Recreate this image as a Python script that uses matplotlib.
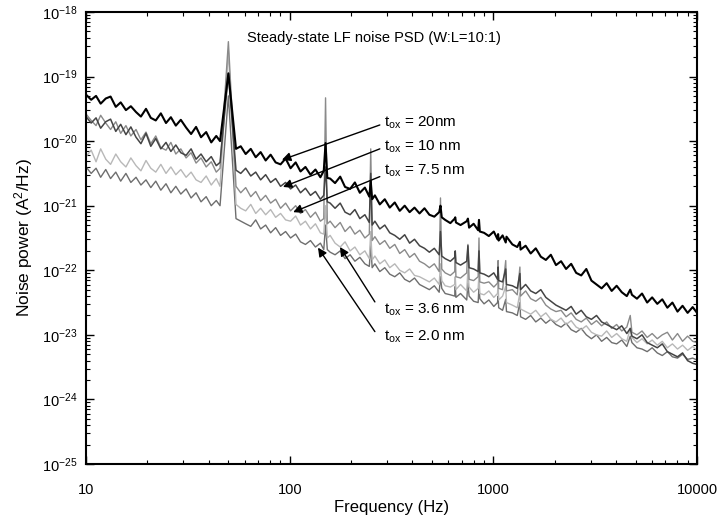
import numpy as np
import matplotlib.pyplot as plt
from matplotlib.ticker import LogLocator, NullFormatter

plt.rcParams['font.family'] = ['Liberation Sans', 'DejaVu Sans']
plt.rcParams['mathtext.fontset'] = 'custom'
plt.rcParams['mathtext.rm'] = 'Liberation Sans'
plt.rcParams['mathtext.it'] = 'Liberation Sans:italic'
plt.rcParams['mathtext.bf'] = 'Liberation Sans:bold'

# frequency (Hz)
freq = [10, 10.6, 11.2, 11.8, 12.5, 13.2, 14.0, 14.8, 15.7, 16.6,
        17.6, 18.6, 19.7, 20.8, 22.0, 23.3, 24.7, 26.1, 27.6, 29.2,
        31.0, 32.8, 34.7, 36.7, 38.9, 41.2, 43.6, 45.5, 50, 54.5,
        57.5, 60.8, 64.4, 68.1, 72.0, 76.2, 80.6, 85.3, 90.2, 95.5,
        101, 107, 113, 119.5, 126.5, 133.8, 141.5, 147, 150, 153,
        158, 167, 177, 187, 198, 209, 221, 234, 246, 250,
        254, 262, 277, 293, 310, 328, 347, 367, 388, 410,
        434, 459, 485, 513, 542, 550, 558, 580, 615, 646,
        650, 655, 690, 740, 750, 760, 800, 842, 850, 858,
        900, 950, 1005, 1048, 1055, 1062, 1110, 1150, 1160, 1240,
        1310, 1350, 1360, 1440, 1525, 1615, 1710, 1810, 1915, 2030,
        2150, 2275, 2410, 2550, 2700, 2860, 3030, 3210, 3400, 3600,
        3810, 4030, 4270, 4520, 4700, 4790, 5070, 5370, 5690, 6020,
        6380, 6750, 7150, 7570, 8020, 8490, 8990, 9520, 10000]

# log10 of noise power (A^2/Hz)
p_20 = [-19.28, -19.36, -19.30, -19.42, -19.34, -19.31, -19.47, -19.40, -19.52, -19.46,
        -19.55, -19.62, -19.50, -19.64, -19.68, -19.57, -19.72, -19.63, -19.76, -19.67,
        -19.79, -19.89, -19.78, -19.94, -19.86, -20.02, -19.92, -20.00, -18.95, -20.12,
        -20.08, -20.20, -20.12, -20.25, -20.17, -20.30, -20.21, -20.33, -20.36, -20.27,
        -20.42, -20.33, -20.47, -20.40, -20.52, -20.44, -20.56, -20.46, -20.03, -20.57,
        -20.58, -20.65, -20.55, -20.71, -20.74, -20.64, -20.80, -20.72, -20.86, -20.62,
        -20.90, -20.84, -20.98, -20.90, -21.03, -20.95, -21.08, -21.00, -21.10, -21.03,
        -21.12, -21.04, -21.14, -21.17, -21.10, -21.00, -21.18, -21.22, -21.27, -21.20,
        -21.18, -21.26, -21.30, -21.24, -21.20, -21.34, -21.28, -21.38, -21.22, -21.40,
        -21.42, -21.47, -21.40, -21.52, -21.44, -21.54, -21.46, -21.57, -21.48, -21.60,
        -21.64, -21.56, -21.68, -21.62, -21.74, -21.66, -21.79, -21.84, -21.76, -21.92,
        -21.86, -21.98, -21.90, -22.04, -22.08, -21.98, -22.16, -22.22, -22.28, -22.20,
        -22.32, -22.24, -22.34, -22.40, -22.30, -22.38, -22.44, -22.36, -22.50, -22.42,
        -22.52, -22.45, -22.58, -22.50, -22.64, -22.55, -22.66, -22.57, -22.66]

p_10 = [-19.62, -19.72, -19.64, -19.80, -19.70, -19.66, -19.85, -19.74, -19.90, -19.78,
        -19.94, -20.04, -19.88, -20.08, -19.96, -20.12, -20.02, -20.16, -20.06, -20.18,
        -20.22, -20.12, -20.28, -20.20, -20.32, -20.24, -20.38, -20.33, -18.96, -20.45,
        -20.50, -20.42, -20.54, -20.48, -20.60, -20.52, -20.64, -20.58, -20.70, -20.64,
        -20.74, -20.68, -20.80, -20.73, -20.84, -20.78, -20.90, -20.84, -20.40, -20.94,
        -20.96, -21.04, -20.96, -21.10, -21.14, -21.06, -21.20, -21.14, -21.26, -20.50,
        -21.30, -21.24, -21.36, -21.30, -21.42, -21.46, -21.52, -21.45, -21.58, -21.52,
        -21.62, -21.66, -21.72, -21.66, -21.76, -21.40, -21.78, -21.82, -21.86, -21.80,
        -21.70, -21.88, -21.92, -21.86, -21.62, -21.96, -21.98, -22.02, -21.70, -22.04,
        -22.06, -22.10, -22.04, -22.14, -21.95, -22.16, -22.18, -21.98, -22.22, -22.24,
        -22.28, -22.05, -22.30, -22.22, -22.32, -22.36, -22.30, -22.42, -22.48, -22.54,
        -22.58, -22.62, -22.56, -22.68, -22.62, -22.72, -22.76, -22.70, -22.80, -22.84,
        -22.88, -22.92, -22.86, -22.98, -22.90, -23.02, -23.06, -23.00, -23.12, -23.16,
        -23.20, -23.14, -23.26, -23.30, -23.34, -23.28, -23.40, -23.44, -23.46]

p_7_5 = [-19.58, -19.68, -19.76, -19.60, -19.72, -19.82, -19.70, -19.88, -19.76, -19.92,
         -19.82, -19.98, -19.86, -20.04, -19.92, -20.10, -20.14, -20.02, -20.20, -20.12,
         -20.26, -20.18, -20.34, -20.26, -20.40, -20.32, -20.48, -20.42, -18.46, -20.70,
         -20.80, -20.72, -20.86, -20.78, -20.92, -20.84, -20.96, -20.90, -21.04, -20.96,
         -21.08, -21.00, -21.12, -21.06, -21.18, -21.10, -21.24, -21.20, -19.33, -21.28,
         -21.24, -21.34, -21.26, -21.40, -21.32, -21.44, -21.38, -21.50, -21.44, -20.12,
         -21.54, -21.48, -21.60, -21.54, -21.66, -21.60, -21.74, -21.68, -21.80, -21.74,
         -21.86, -21.90, -21.96, -21.90, -22.02, -20.88, -21.98, -22.04, -22.08, -22.02,
         -21.75, -22.10, -22.12, -22.04, -21.60, -22.14, -22.16, -22.10, -21.50, -22.18,
         -22.20, -22.18, -22.26, -22.20, -21.85, -22.28, -22.30, -21.85, -22.32, -22.30,
         -22.38, -21.95, -22.40, -22.32, -22.44, -22.48, -22.42, -22.54, -22.60, -22.64,
         -22.62, -22.72, -22.66, -22.76, -22.80, -22.74, -22.84, -22.78, -22.86, -22.80,
         -22.90, -22.84, -22.94, -22.88, -22.70, -22.96, -23.00, -22.94, -23.04, -22.98,
         -23.06, -23.00, -22.96, -23.08, -22.98, -23.10, -23.02, -23.10, -23.12]

p_3_6 = [-20.24, -20.14, -20.32, -20.12, -20.28, -20.36, -20.20, -20.32, -20.40, -20.26,
         -20.38, -20.46, -20.30, -20.42, -20.48, -20.36, -20.50, -20.40, -20.52, -20.44,
         -20.56, -20.48, -20.60, -20.64, -20.54, -20.68, -20.58, -20.70, -18.60, -20.98,
         -21.04, -21.08, -20.98, -21.12, -21.04, -21.14, -21.06, -21.18, -21.12, -21.22,
         -21.24, -21.16, -21.30, -21.24, -21.36, -21.28, -21.42, -21.44, -21.00, -21.50,
         -21.46, -21.58, -21.64, -21.56, -21.70, -21.64, -21.76, -21.70, -21.82, -21.40,
         -21.84, -21.78, -21.90, -21.84, -21.96, -21.90, -22.00, -22.04, -21.98, -22.08,
         -22.10, -22.14, -22.18, -22.12, -22.22, -21.90, -22.16, -22.24, -22.26, -22.22,
         -22.10, -22.30, -22.22, -22.32, -22.00, -22.26, -22.34, -22.28, -22.05, -22.36,
         -22.38, -22.32, -22.42, -22.36, -22.20, -22.46, -22.40, -22.25, -22.50, -22.54,
         -22.58, -22.35, -22.60, -22.64, -22.68, -22.62, -22.72, -22.66, -22.76, -22.80,
         -22.74, -22.84, -22.78, -22.88, -22.92, -22.86, -22.96, -23.00, -23.02, -22.94,
         -23.04, -22.98, -23.06, -23.10, -22.90, -23.04, -23.12, -23.06, -23.14, -23.08,
         -23.16, -23.10, -23.20, -23.14, -23.22, -23.16, -23.24, -23.18, -23.24]

p_2_0 = [-20.40, -20.50, -20.42, -20.56, -20.44, -20.58, -20.48, -20.62, -20.50, -20.64,
         -20.56, -20.68, -20.60, -20.72, -20.62, -20.76, -20.66, -20.80, -20.70, -20.82,
         -20.74, -20.88, -20.80, -20.94, -20.86, -21.00, -20.92, -21.00, -19.30, -21.20,
         -21.24, -21.28, -21.32, -21.22, -21.36, -21.30, -21.42, -21.34, -21.46, -21.40,
         -21.50, -21.44, -21.56, -21.60, -21.54, -21.64, -21.58, -21.68, -21.30, -21.68,
         -21.72, -21.76, -21.70, -21.82, -21.76, -21.86, -21.80, -21.90, -21.94, -21.60,
         -21.96, -21.90, -22.02, -21.96, -22.06, -22.10, -22.04, -22.14, -22.18, -22.12,
         -22.22, -22.26, -22.30, -22.24, -22.34, -22.10, -22.28, -22.36, -22.38, -22.40,
         -22.25, -22.42, -22.36, -22.46, -22.20, -22.40, -22.48, -22.50, -22.25, -22.44,
         -22.52, -22.46, -22.56, -22.50, -22.40, -22.58, -22.62, -22.45, -22.64, -22.66,
         -22.70, -22.50, -22.72, -22.76, -22.70, -22.80, -22.74, -22.82, -22.76, -22.84,
         -22.88, -22.82, -22.92, -22.96, -22.90, -23.00, -23.06, -23.00, -23.10, -23.04,
         -23.12, -23.14, -23.08, -23.18, -23.02, -23.12, -23.20, -23.22, -23.26, -23.20,
         -23.28, -23.32, -23.26, -23.34, -23.36, -23.30, -23.38, -23.36, -23.39]

# drawing order: back to front
series = [p_2_0, p_3_6, p_7_5, p_10, p_20]
colors = ['#6e6e6e', '#b8b8b8', '#8a8a8a', '#444444', '#000000']
widths = [1.0, 1.0, 1.0, 1.1, 1.5]

# annotations: label, text pos, arrow tail, arrow tip (freq, log10 power)
labels = ['$\\mathrm{t_{ox}}$ = 20nm', '$\\mathrm{t_{ox}}$ = 10 nm',
          '$\\mathrm{t_{ox}}$ = 7.5 nm', '$\\mathrm{t_{ox}}$ = 3.6 nm',
          '$\\mathrm{t_{ox}}$ = 2.0 nm']
text_pos = [(290, -19.72), (290, -20.09), (290, -20.46), (290, -22.61), (290, -23.03)]
arrow_tail = [(277, -19.75), (277, -20.12), (277, -20.55), (262, -22.49), (262, -22.95)]
arrow_tip = [(91.6, -20.29), (92.7, -20.71), (104, -21.10), (176.6, -21.64), (137.7, -21.65)]

x_ticks = [10, 100, 1000, 10000]
y_ticks = [1e-25, 1e-24, 1e-23, 1e-22, 1e-21, 1e-20, 1e-19, 1e-18]

fig = plt.figure(figsize=(7.18, 5.22), dpi=100)
ax = fig.add_axes([0.1198, 0.1111, 0.851, 0.866])

for p, c, w in zip(series, colors, widths):
    ax.plot(freq, 10 ** np.array(p), color=c, lw=w)

ax.set_xscale('log')
ax.set_yscale('log')
ax.set_xlim(10, 10000)
ax.set_ylim(1e-25, 1e-18)

ax.set_xticks(x_ticks)
ax.set_xticklabels([str(t) for t in x_ticks])
ax.set_yticks(y_ticks)
ax.set_yticklabels(['$10^{%d}$' % int(np.log10(t)) for t in y_ticks])
ax.xaxis.set_minor_locator(LogLocator(base=10, subs=np.arange(2, 10), numticks=20))
ax.xaxis.set_minor_formatter(NullFormatter())
ax.yaxis.set_minor_locator(LogLocator(base=10, subs=np.arange(2, 10), numticks=30))
ax.yaxis.set_minor_formatter(NullFormatter())

ax.tick_params(which='both', direction='in', top=True, right=True, labelsize=10.5)
ax.tick_params(which='major', length=6, width=1.0)
ax.tick_params(which='minor', length=3, width=0.8)
ax.tick_params(axis='x', which='major', pad=14)
ax.tick_params(axis='y', which='major', pad=6)
for s in ax.spines.values():
    s.set_linewidth(1.5)

ax.set_xlabel('Frequency (Hz)', fontsize=12, labelpad=2)
ax.set_ylabel('Noise power (A$^2$/Hz)', fontsize=12.5, labelpad=5)

ax.text(259, 10 ** -18.40, 'Steady-state LF noise PSD (W:L=10:1)',
        ha='center', va='center', fontsize=10.5)

for lab, tp, tail, tip in zip(labels, text_pos, arrow_tail, arrow_tip):
    ax.annotate('', xy=(tip[0], 10 ** tip[1]), xytext=(tail[0], 10 ** tail[1]),
                arrowprops=dict(arrowstyle='-|>', color='black', lw=1.0,
                                mutation_scale=13, shrinkA=0, shrinkB=0))
    ax.text(tp[0], 10 ** tp[1], lab, ha='left', va='center', fontsize=11)

plt.savefig('out.png', dpi=100)
